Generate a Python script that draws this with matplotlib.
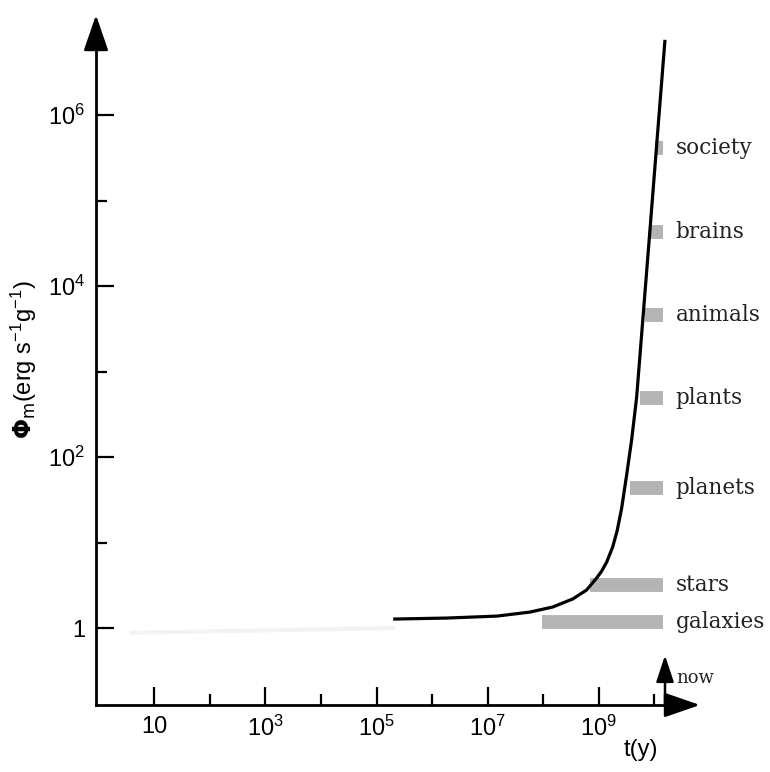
import matplotlib.pyplot as plt
import numpy as np

# curve, as log10(t / yr) and log10(phi / erg s-1 g-1)
log_t_curve = [5.30, 6.27, 7.17, 7.76, 8.17, 8.53, 8.78, 8.96, 9.05, 9.14, 9.25, 9.33,
               9.41, 9.50, 9.59, 9.68, 9.80, 9.92, 10.05, 10.19]
log_phi_curve = [0.105, 0.117, 0.14, 0.187, 0.246, 0.34, 0.445, 0.585, 0.665, 0.77, 0.95, 1.14,
                 1.40, 1.79, 2.20, 2.70, 3.68, 4.66, 5.73, 6.88]

# evolution bands
band_names = ['galaxies', 'stars', 'planets', 'plants', 'animals', 'brains', 'society']
band_start = [9.5e7, 6.9e8, 3.6e9, 5.5e9, 6.8e9, 8.3e9, 1.02e10]
band_phi = [1.17, 3.2, 44, 490, 4570, 4.3e4, 4.1e5]
t_now = 1.55e10

x_major = [1e1, 1e3, 1e5, 1e7, 1e9]
x_major_labels = ['10', '$10^3$', '$10^5$', '$10^7$', '$10^9$']
x_minor = [1e2, 1e4, 1e6, 1e8, 1e10]
y_major = [1, 1e2, 1e4, 1e6]
y_major_labels = ['1', '$10^2$', '$10^4$', '$10^6$']
y_minor = [1e1, 1e3, 1e5]

plt.rcParams['font.family'] = ['Liberation Sans', 'DejaVu Sans']
plt.rcParams['mathtext.default'] = 'regular'

fig = plt.figure(figsize=(7.7, 7.72), dpi=100)
ax = fig.add_axes([96/770, 67/772, 604/770, 690/772])
ax.set_xscale('log')
ax.set_yscale('log')
xmin, xmax = 10**-0.047, 10**10.82
ymin, ymax = 10**-0.90, 10**7.17
ax.set_xlim(xmin, xmax)
ax.set_ylim(ymin, ymax)

for s in ['top', 'right']:
    ax.spines[s].set_visible(False)
for s in ['left', 'bottom']:
    ax.spines[s].set_linewidth(2.0)
ax.spines['left'].set_bounds(ymin, 10**6.8)
ax.spines['bottom'].set_bounds(xmin, 10**10.5)

# arrow heads on axes
ax.annotate('', xy=(0, 1), xytext=(0, 0.95), xycoords='axes fraction',
            arrowprops=dict(arrowstyle='-|>,head_length=1.1,head_width=0.38',
                            mutation_scale=20, color='black', lw=2, shrinkA=0, shrinkB=0))
ax.annotate('', xy=(1, 0), xytext=(0.95, 0), xycoords='axes fraction',
            arrowprops=dict(arrowstyle='-|>,head_length=1.1,head_width=0.38',
                            mutation_scale=20, color='black', lw=2, shrinkA=0, shrinkB=0))

ax.set_xticks(x_major)
ax.set_xticklabels(x_major_labels)
ax.set_xticks(x_minor, minor=True)
ax.set_xticklabels([], minor=True)
ax.set_yticks(y_major)
ax.set_yticklabels(y_major_labels)
ax.set_yticks(y_minor, minor=True)
ax.set_yticklabels([], minor=True)
ax.tick_params(which='major', direction='in', length=13, width=1.6, labelsize=17, pad=8)
ax.tick_params(which='minor', direction='in', length=8, width=1.6)

# faint scan band near 1
ax.plot([4, 2e5], [0.88, 1.0], color='#f3f3f3', lw=3, zorder=1)

# bands
for name, left, phi in zip(band_names, band_start, band_phi):
    ax.hlines(phi, left, t_now * 0.93, color='#b4b4b4', lw=10, zorder=2)
    ax.annotate(name, xy=(t_now * 0.93, phi), xytext=(9, 0), textcoords='offset points',
                va='center', ha='left', fontsize=15.5, family='DejaVu Serif', color='#222222')

# curve
ax.plot(10**np.array(log_t_curve), 10**np.array(log_phi_curve),
        color='black', lw=2.3, zorder=3, solid_capstyle='butt', solid_joinstyle='round')

# now arrow
ax.annotate('', xy=(t_now, 10**-0.32), xytext=(t_now, ymin), xycoords='data',
            arrowprops=dict(arrowstyle='-|>,head_length=0.9,head_width=0.3',
                            mutation_scale=18, color='black', lw=1.8, shrinkA=0, shrinkB=0),
            annotation_clip=False)
ax.annotate('now', xy=(t_now, 10**-0.58), xytext=(8, 0), textcoords='offset points',
            va='center', ha='left', fontsize=13, family='DejaVu Serif', color='#222222')

ax.set_ylabel(r'$\mathbf{\Phi}_{\rm m}$(erg s$^{-1}$g$^{-1}$)', fontsize=17, labelpad=6)
ax.text(10**9.75, 10**-1.43, 't(y)', fontsize=17, ha='center', va='center')

fig.savefig('out.png', dpi=100)
